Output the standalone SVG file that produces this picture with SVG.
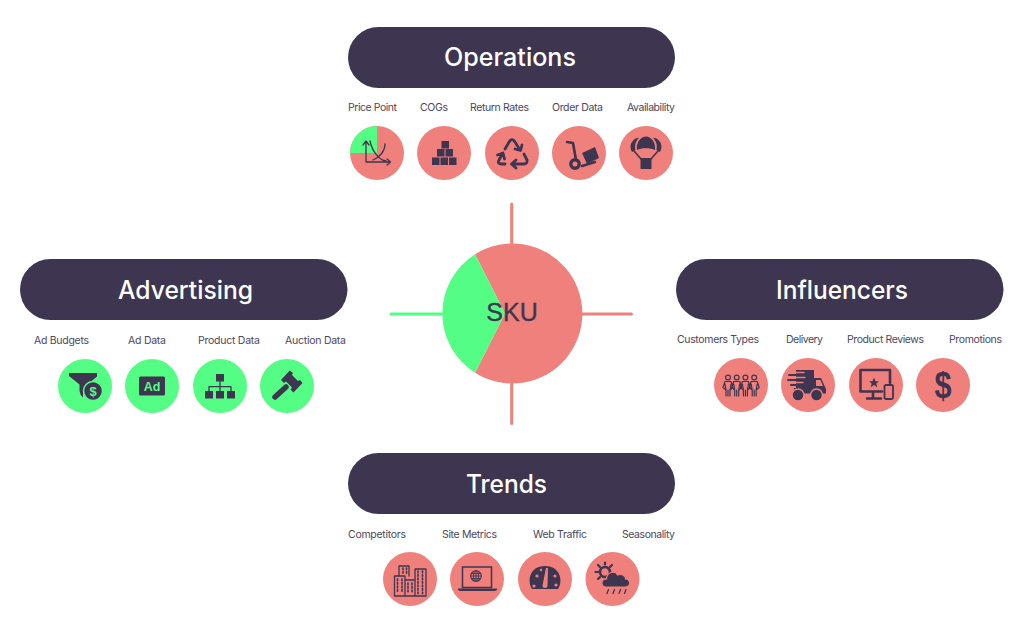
<svg xmlns="http://www.w3.org/2000/svg" width="1024" height="633" viewBox="0 0 1024 633">
<style>
.pill{fill:#3e3650}
.title{font-family:"Inter","Liberation Sans",sans-serif;font-size:25.5px;font-weight:500;fill:#fff;text-anchor:middle}
.lab{font-family:"Inter","Liberation Sans",sans-serif;font-size:10.5px;fill:#4c4660}
.s{fill:#f0807c}.g{fill:#54fd84}.d{fill:#3e3650}
.ln{fill:none;stroke:#3e3650;stroke-linecap:round;stroke-linejoin:round}
.w2{stroke-width:2.6}.w1{stroke-width:1.3}
.conn{fill:none;stroke-width:3;stroke-linecap:round}
.sym{font-family:"Liberation Sans",sans-serif;font-weight:700;text-anchor:middle}
</style>
<rect width="1024" height="633" fill="#fff"/>
<g id="connectors">
<path class="conn" stroke="#f0807c" d="M511.700,204V243M511.700,384V423.500M582,314H631.500"/>
<path class="conn" stroke="#54fd84" d="M391,314H442"/>
</g>
<g id="sku">
<path class="s" d="M475,254.300A70,70 0 1 1 475,372.700L505,313.500Z"/>
<path class="g" d="M475,254.300L505,313.500L475,372.700A70,70 0 0 1 475,254.300Z"/>
<text x="512" y="321" font-family="Liberation Sans,sans-serif" font-size="25" fill="#3e3650" stroke="#3e3650" stroke-width="0.350" text-anchor="middle">SKU</text>
</g>
<g id="operations">
<rect class="pill" x="348" y="27" width="327" height="61" rx="30.500"/>
<text class="title" x="510" y="66" textLength="132" lengthAdjust="spacingAndGlyphs">Operations</text>
</g>
<g id="advertising">
<rect class="pill" x="20" y="259" width="327.500" height="61" rx="30.500"/>
<text class="title" x="185.500" y="299" textLength="135" lengthAdjust="spacingAndGlyphs">Advertising</text>
</g>
<g id="influencers">
<rect class="pill" x="676" y="259" width="327.500" height="61" rx="30.500"/>
<text class="title" x="842" y="299" textLength="132" lengthAdjust="spacingAndGlyphs">Influencers</text>
</g>
<g id="trends">
<rect class="pill" x="348" y="453" width="327" height="61" rx="30.500"/>
<text class="title" x="506.500" y="493" textLength="81" lengthAdjust="spacingAndGlyphs">Trends</text>
</g>

<g id="price-point">
<text class="lab" x="348" y="111" textLength="49">Price Point</text>
<g transform="translate(377,153)">
<circle class="s" r="27"/>
<path class="g" d="M0,0V-27A27,27 0 0 0 -27,0Z"/>
<path class="ln w1" d="M-11,-11V9H13M-14,-8L-11,-12L-8,-8M10,6L13.500,9L10,12M-7,-12C-5,-2 2,7 9,8M-4,7C3,4 8,-2 8,-9"/>
</g></g>
<g id="cogs">
<text class="lab" x="420" y="111" textLength="28">COGs</text>
<g transform="translate(444,153)">
<circle class="s" r="27"/>
<path class="d" d="M-2.500,-12H5V-4.500H-2.500ZM-7,-4H0.500V3.500H-7ZM1.500,-4H9V3.500H1.500ZM-12,4.500H-4.500V12H-12ZM-3.500,4.500H4V12H-3.500ZM5,4.500H12.500V12H5Z"/>
</g></g>
<g id="return-rates">
<text class="lab" x="470" y="111" textLength="59">Return Rates</text>
<g transform="translate(512,153)">
<circle class="s" r="27"/>
<path class="ln" stroke-width="2.800" d="M-7,-4L-2,-12.500Q0,-14 2,-12.500L8,-3M3,-4L8.500,-2.500L10,-8M12,1L15,7Q15.500,11 12,11H0M4,7L-0.500,11L4,15M-7,11H-11Q-15,10.500 -13,7L-9.500,0.500M-14.500,2L-9,0L-7.500,6"/>
</g></g>
<g id="order-data">
<text class="lab" x="552" y="111" textLength="51">Order Data</text>
<g transform="translate(579,153)">
<circle class="s" r="27"/>
<path class="ln w2" d="M-12,-11L-6,-10L-3,7"/>
<path class="d" d="M3,0L16,-6L20,5L8,11Z"/>
<path class="ln w2" d="M3,13L16,9"/>
<circle cx="-4" cy="11" r="4.200" fill="none" stroke="#3e3650" stroke-width="3.400"/>
</g></g>
<g id="availability">
<text class="lab" x="627" y="111" textLength="48">Availability</text>
<g transform="translate(646,153)">
<circle class="s" r="27"/>
<path class="d" d="M-9,-3C-10,-11 -5,-16.500 0,-16.500C5,-16.500 10,-11 9,-3C5,-5.500 -5,-5.500 -9,-3ZM-10.500,-14.500C-16,-11 -16.500,-6 -14,-1L-10.500,-3C-11.500,-8 -10.500,-11 -7,-15.500ZM10.500,-14.500C16,-11 16.500,-6 14,-1L10.500,-3C11.500,-8 10.500,-11 7,-15.500ZM-5.500,5H5.500V16H-5.500Z"/>
<path class="ln" stroke-width="1.600" d="M-12,-2L-5,6M12,-2L5,6"/>
</g></g>

<g id="ad-budgets">
<text class="lab" x="34" y="344" textLength="55">Ad Budgets</text>
<g transform="translate(85,386)">
<circle class="g" r="27"/>
<path class="d" d="M-16,-13H12V-9.500L3,-2L-2,3V11.500Q-5,9 -5.500,5V-1.500L-16,-10Z"/>
<circle class="d" cx="8" cy="5" r="9.500" stroke="#54fd84" stroke-width="1.500"/>
<text class="sym" x="8" y="10" font-size="13" fill="#54fd84">$</text>
</g></g>
<g id="ad-data">
<text class="lab" x="128" y="344" textLength="38">Ad Data</text>
<g transform="translate(152,386)">
<circle class="g" r="27"/>
<rect class="d" x="-13" y="-9.500" width="26" height="19" rx="1.500"/>
<text class="sym" x="0" y="4.500" font-size="12.500" fill="#54fd84">Ad</text>
</g></g>
<g id="product-data">
<text class="lab" x="198" y="344" textLength="62">Product Data</text>
<g transform="translate(220,386)">
<circle class="g" r="27"/>
<path class="d" d="M-4,-12H4V-4.500H-4ZM-15,5H-7V12.500H-15ZM-4,5H4V12.500H-4ZM7,5H15V12.500H7Z"/>
<path class="ln w1" d="M0,-4.500V5M-11,5V0.700H11V5"/>
</g></g>
<g id="auction-data">
<text class="lab" x="285" y="344" textLength="61">Auction Data</text>
<g transform="translate(287,386)">
<circle class="g" r="27"/>
<path class="d" d="M2.700,-15.500L6,-13L5,-11L11,-5L13,-6L15.500,-3L6.500,6.500L3.500,3.500L5,1.500L-1,-4.500L-3,-3L-6,-6Z"/>
<path class="ln" stroke-width="5.500" d="M-12,11L-1,1"/>
</g></g>

<g id="customers-types">
<text class="lab" x="677" y="343" textLength="82">Customers Types</text>
<g transform="translate(741,385)">
<circle class="s" r="27"/>
<g id="person"><circle cx="-13" cy="-7.500" r="2.400" fill="none" stroke="#3e3650" stroke-width="1.200"/>
<path class="ln" stroke-width="1.200" d="M-15,11V5L-18,2.500L-16,-3.500H-10L-8,2.500L-11,5V11M-13,5V11M-16,-1L-15,5M-10,-1L-11,5"/></g>
<use href="#person" x="8.700"/><use href="#person" x="17.400"/><use href="#person" x="26.200"/>
</g></g>
<g id="delivery">
<text class="lab" x="786" y="343" textLength="37">Delivery</text>
<g transform="translate(808,385)">
<circle class="s" r="27"/>
<path class="d" d="M-12,-15H6V-7H13L18,4V8.500H-14V3H-12Z"/>
<path class="ln" stroke="#f0807c" style="stroke:#f0807c" stroke-width="1.500" stroke-linecap="butt" d="M-13,-12.500H-4M-13,-7.500H-3M-13,-2.500H-5"/>
<path class="ln" stroke-width="2" d="M-19,-10H-7M-20,-5H-6M-17,0H-8"/>
<path class="s" d="M8,-5H12.500L15,1H8Z"/>
<circle class="d" cx="-10" cy="10" r="6" stroke="#f0807c" stroke-width="1.500"/>
<circle class="d" cx="8.500" cy="10" r="6" stroke="#f0807c" stroke-width="1.500"/>
</g></g>
<g id="product-reviews">
<text class="lab" x="847" y="343" textLength="77">Product Reviews</text>
<g transform="translate(876,385)">
<circle class="s" r="27"/>
<path class="ln w2" stroke-linecap="butt" d="M6,6.500H-15.500V-15H14V-2M-3,6.500V13.500M-9,13.500H5"/>
<path class="d" d="M-2,-7.500L-0.500,-3.800H3L0.300,-1.500L1.300,2.200L-2,0L-5.300,2.200L-4.300,-1.500L-7,-3.800H-3.500Z"/>
<rect x="8.500" y="0" width="8.500" height="14" rx="1.500" fill="#f0807c" stroke="#3e3650" stroke-width="1.800"/>
</g></g>
<g id="promotions">
<text class="lab" x="949" y="343" textLength="53">Promotions</text>
<g transform="translate(943,385)">
<circle class="s" r="27"/>
<text class="sym" x="0" y="13" font-size="37" fill="#3e3650" textLength="17" lengthAdjust="spacingAndGlyphs">$</text>
</g></g>

<g id="competitors">
<text class="lab" x="348" y="538" textLength="58">Competitors</text>
<g transform="translate(410,579)">
<circle class="s" r="27"/>
<path class="ln w1" stroke-linecap="butt" d="M-15.500,-3H-5V17H-15.500ZM-11,-3V-13H-1V-3M-5,1H5V17H-5M5,-10H16V17H5Z"/>
<path class="ln" stroke-width="1.600" stroke-linecap="butt" stroke-dasharray="1.800 1.700" d="M-12.500,0V14M-8,0V14M-7,-11V-5M-3.500,-11V-5M-2,4V14M2,4V14M8,-8V15M12.500,-8V15"/>
</g></g>
<g id="site-metrics">
<text class="lab" x="442" y="538" textLength="55">Site Metrics</text>
<g transform="translate(477,579)">
<circle class="s" r="27"/>
<rect x="-14.500" y="-12" width="29" height="20.500" fill="none" stroke="#3e3650" stroke-width="1.500"/>
<path class="d" d="M-19,9.500H20V11L18,12H-17L-19,11Z"/>
<circle cx="-1" cy="-3" r="5.300" fill="none" stroke="#3e3650" stroke-width="1.100"/>
<path class="ln" stroke-width="0.900" d="M-6,-3H4M-5.500,-5.500H3.500M-5.500,-0.500H3.500M-1,-8.200V2.200"/>
<ellipse cx="-1" cy="-3" rx="2.500" ry="5.200" fill="none" stroke="#3e3650" stroke-width="0.900"/>
</g></g>
<g id="web-traffic">
<text class="lab" x="533" y="538" textLength="54">Web Traffic</text>
<g transform="translate(545,579)">
<circle class="s" r="27"/>
<path class="d" d="M-13,10C-18,3 -16,-13 0,-13C16,-13 18,3 13,10Z"/>
<path class="s" d="M1,-11L3,-11L2.500,6.500A2.500,2.500 0 0 1 -2.500,6.500Z"/>
<circle class="s" cx="-8" cy="-3" r="1.600"/><circle class="s" cx="-11" cy="7" r="1.600"/><circle class="s" cx="11" cy="6" r="1.600"/><circle class="s" cx="10" cy="-3" r="1.600"/><circle class="s" cx="-4" cy="-9" r="1.200"/>
</g></g>
<g id="seasonality">
<text class="lab" x="622" y="538" textLength="53">Seasonality</text>
<g transform="translate(612.500,579)">
<circle class="s" r="27"/>
<circle cx="-7.500" cy="-7" r="5" fill="none" stroke="#3e3650" stroke-width="2.600"/>
<path class="ln" stroke-width="2.200" d="M-7.500,-14.500V-16.500M-14.500,-7H-17M-12.500,-12L-14.500,-14M-2.500,-12L-0.500,-14M-12.500,-2L-14.500,0"/>
<path class="d" stroke="#f0807c" stroke-width="1.200" d="M-7,8C-12,8 -12,0 -6,0C-6,-7 3,-9 5,-4C10,-6 14,-2 13,0C18,0 19,8 13,8Z"/>
<path class="ln" stroke-width="1.300" d="M-4,10.500L-5.500,14.500M2,10.500L0.500,14.500M8,10.500L6.500,14.500M13.500,10.500L12,14.500"/>
</g></g>
</svg>
